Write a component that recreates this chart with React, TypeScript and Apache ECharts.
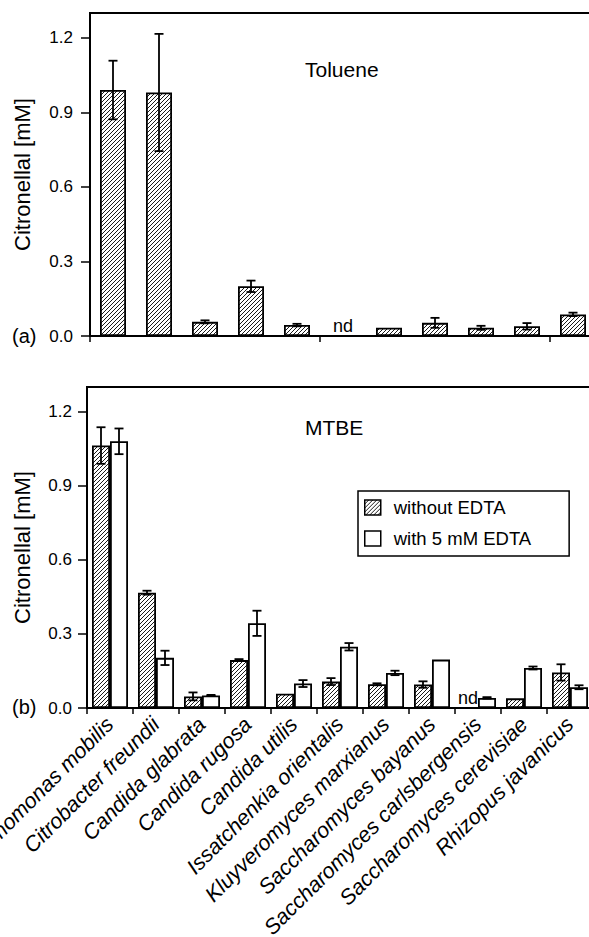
import React, { useEffect, useRef } from 'react';
import * as echarts from 'echarts';

const categories = [
  'Zymomonas mobilis',
  'Citrobacter freundii',
  'Candida glabrata',
  'Candida rugosa',
  'Candida utilis',
  'Issatchenkia orientalis',
  'Kluyveromyces marxianus',
  'Saccharomyces bayanus',
  'Saccharomyces carlsbergensis',
  'Saccharomyces cerevisiae',
  'Rhizopus javanicus',
];

// (a) Toluene, null = nd
const toluene = [0.99, 0.98, 0.057, 0.2, 0.044, null, 0.033, 0.053, 0.033, 0.039, 0.087];
const tolueneErr = [0.118, 0.236, 0.006, 0.023, 0.005, null, 0, 0.02, 0.008, 0.013, 0.007];

// (b) MTBE
const mtbeWithout = [1.063, 0.467, 0.047, 0.194, 0.058, 0.107, 0.096, 0.095, null, 0.039, 0.144];
const mtbeWithoutErr = [0.074, 0.008, 0.016, 0.004, 0, 0.014, 0.004, 0.013, null, 0, 0.033];
const mtbeWith = [1.08, 0.203, 0.051, 0.343, 0.099, 0.248, 0.142, 0.196, 0.041, 0.162, 0.084];
const mtbeWithErr = [0.052, 0.029, 0.002, 0.051, 0.014, 0.015, 0.009, 0, 0.003, 0.006, 0.008];

const yTicks = [0, 0.3, 0.6, 0.9, 1.2];
const seriesNames = ['without EDTA', 'with 5 mM EDTA'];

const FONT = '"Liberation Sans", Arial, Helvetica, sans-serif';

export default function App() {
  const ref = useRef<HTMLDivElement>(null);
  useEffect(() => {
    if (!ref.current) return;
    const cv = document.createElement('canvas');
    const s = 4;
    cv.width = s;
    cv.height = s;
    const ctx = cv.getContext('2d')!;
    ctx.fillStyle = '#fff';
    ctx.fillRect(0, 0, s, s);
    ctx.strokeStyle = '#1a1a1a';
    ctx.lineWidth = 1;
    ctx.beginPath();
    ctx.moveTo(0, s);
    ctx.lineTo(s, 0);
    ctx.moveTo(-1, 1);
    ctx.lineTo(1, -1);
    ctx.moveTo(s - 1, s + 1);
    ctx.lineTo(s + 1, s - 1);
    ctx.stroke();
    const hatch: any = { image: cv, repeat: 'repeat' };

    const chart = echarts.init(ref.current, null, { renderer: 'svg' });

    const errSeries = (gi: number, vals: (number | null)[], errs: (number | null)[], offset: number) => ({
      type: 'custom',
      xAxisIndex: gi,
      yAxisIndex: gi,
      z: 5,
      silent: true,
      encode: { x: 0, y: 1 },
      data: vals
        .map((v, i) => (v == null || errs[i] == null || errs[i] === 0 ? null : [i, v, errs[i]]))
        .filter((d) => d != null),
      renderItem: (params: any, api: any) => {
        const i = api.value(0);
        const v = api.value(1);
        const e = api.value(2);
        const hi = api.coord([i, v + e]);
        const lo = api.coord([i, v - e]);
        const x = hi[0] + offset;
        const w = 4.5;
        const st = { stroke: '#000', lineWidth: 1.8 };
        return {
          type: 'group',
          children: [
            { type: 'line', shape: { x1: x, y1: hi[1], x2: x, y2: lo[1] }, style: st },
            { type: 'line', shape: { x1: x - w, y1: hi[1], x2: x + w, y2: hi[1] }, style: st },
            { type: 'line', shape: { x1: x - w, y1: lo[1], x2: x + w, y2: lo[1] }, style: st },
          ],
        };
      },
    });

    const ndSeries = (gi: number, vals: (number | null)[], offset: number) => ({
      type: 'custom',
      xAxisIndex: gi,
      yAxisIndex: gi,
      z: 5,
      silent: true,
      encode: { x: 0, y: 1 },
      data: vals.map((v, i) => (v == null ? [i, 0] : null)).filter((d) => d != null),
      renderItem: (params: any, api: any) => {
        const p = api.coord([api.value(0), 0]);
        return {
          type: 'text',
          x: p[0] + offset,
          y: p[1] - 10,
          style: {
            text: 'nd',
            fill: '#000',
            fontSize: 18,
            fontFamily: FONT,
            align: 'center',
            verticalAlign: 'middle',
          },
        };
      },
    });

    const xAxisBase = {
      type: 'category',
      data: categories,
      axisLine: { lineStyle: { color: '#000', width: 2 } },
      axisTick: { show: true, inside: false, length: 6, lineStyle: { color: '#000', width: 1.5 } },
      splitLine: { show: false },
    };
    const yAxisBase = (margin: number, nameGap: number) => ({
      type: 'value',
      min: 0,
      max: 1.3,
      name: 'Citronellal [mM]',
      nameLocation: 'middle',
      nameGap,
      nameRotate: 90,
      nameTextStyle: { fontSize: 22, color: '#000', fontFamily: FONT },
      axisLine: { show: true, lineStyle: { color: '#000', width: 2 } },
      axisTick: { show: true, inside: false, length: 9, lineStyle: { color: '#000', width: 1.5 }, customValues: yTicks },
      axisLabel: {
        customValues: yTicks,
        formatter: (v: number) => v.toFixed(1),
        fontSize: 17,
        color: '#000',
        fontFamily: FONT,
        margin,
      },
      splitLine: { show: false },
    });

    const gridBase = {
      show: true,
      borderColor: '#000',
      borderWidth: 2,
      backgroundColor: 'transparent',
      containLabel: false,
      outerBoundsMode: 'none',
    };

    const option: any = {
      animation: false,
      backgroundColor: '#fff',
      textStyle: { fontFamily: FONT },
      grid: [
        { ...gridBase, left: 90, top: 13, width: 506, height: 323 },
        { ...gridBase, left: 87, top: 387, width: 506, height: 321 },
      ],
      xAxis: [
        { ...xAxisBase, gridIndex: 0, axisLabel: { show: false } },
        {
          ...xAxisBase,
          gridIndex: 1,
          axisLabel: {
            show: true,
            interval: 0,
            rotate: 45,
            fontSize: 21.5,
            fontStyle: 'italic',
            color: '#000',
            fontFamily: FONT,
            margin: 13,
            hideOverlap: false,
          },
        },
      ],
      yAxis: [
        { ...yAxisBase(17, 57), gridIndex: 0 },
        { ...yAxisBase(15, 54), gridIndex: 1 },
      ],
      legend: {
        data: seriesNames,
        orient: 'vertical',
        left: 358,
        top: 491,
        itemWidth: 16,
        itemHeight: 15,
        itemGap: 12,
        padding: [7, 38, 8, 6],
        borderColor: '#000',
        borderWidth: 1.5,
        icon: 'rect',
        textStyle: { fontSize: 18.5, color: '#000', fontFamily: FONT, padding: [0, 0, 0, 8] },
        itemStyle: { borderColor: '#000', borderWidth: 1.5 },
      },
      graphic: [
        { type: 'text', x: 305, y: 69, style: { text: 'Toluene', fontSize: 21, fill: '#000', fontFamily: FONT, verticalAlign: 'middle' } },
        { type: 'text', x: 305, y: 427, style: { text: 'MTBE', fontSize: 21, fill: '#000', fontFamily: FONT, verticalAlign: 'middle' } },
        { type: 'text', x: 12, y: 336, style: { text: '(a)', fontSize: 20, fill: '#000', fontFamily: FONT, verticalAlign: 'middle' } },
        { type: 'text', x: 12, y: 707, style: { text: '(b)', fontSize: 20, fill: '#000', fontFamily: FONT, verticalAlign: 'middle' } },
      ],
      series: [
        {
          name: 'Toluene',
          type: 'bar',
          xAxisIndex: 0,
          yAxisIndex: 0,
          barWidth: 26,
          data: toluene.map((v) => (v == null ? '-' : v)),
          itemStyle: { color: hatch, borderColor: '#000', borderWidth: 1.8 },
        },
        errSeries(0, toluene, tolueneErr, 0),
        ndSeries(0, toluene, 0),
        {
          name: seriesNames[0],
          type: 'bar',
          xAxisIndex: 1,
          yAxisIndex: 1,
          barWidth: 18,
          barGap: '0%',
          data: mtbeWithout.map((v) => (v == null ? '-' : v)),
          itemStyle: { color: hatch, borderColor: '#000', borderWidth: 1.8 },
        },
        {
          name: seriesNames[1],
          type: 'bar',
          xAxisIndex: 1,
          yAxisIndex: 1,
          barWidth: 18,
          barGap: '0%',
          data: mtbeWith,
          itemStyle: { color: '#fff', borderColor: '#000', borderWidth: 1.8 },
        },
        errSeries(1, mtbeWithout, mtbeWithoutErr, -9),
        errSeries(1, mtbeWith, mtbeWithErr, 9),
        ndSeries(1, mtbeWithout, -10),
      ],
    };
    chart.setOption(option);
    return () => chart.dispose();
  }, []);
  return <div ref={ref} style={{ position: 'absolute', left: 0, top: 0, width: 589, height: 937 }} />;
}
